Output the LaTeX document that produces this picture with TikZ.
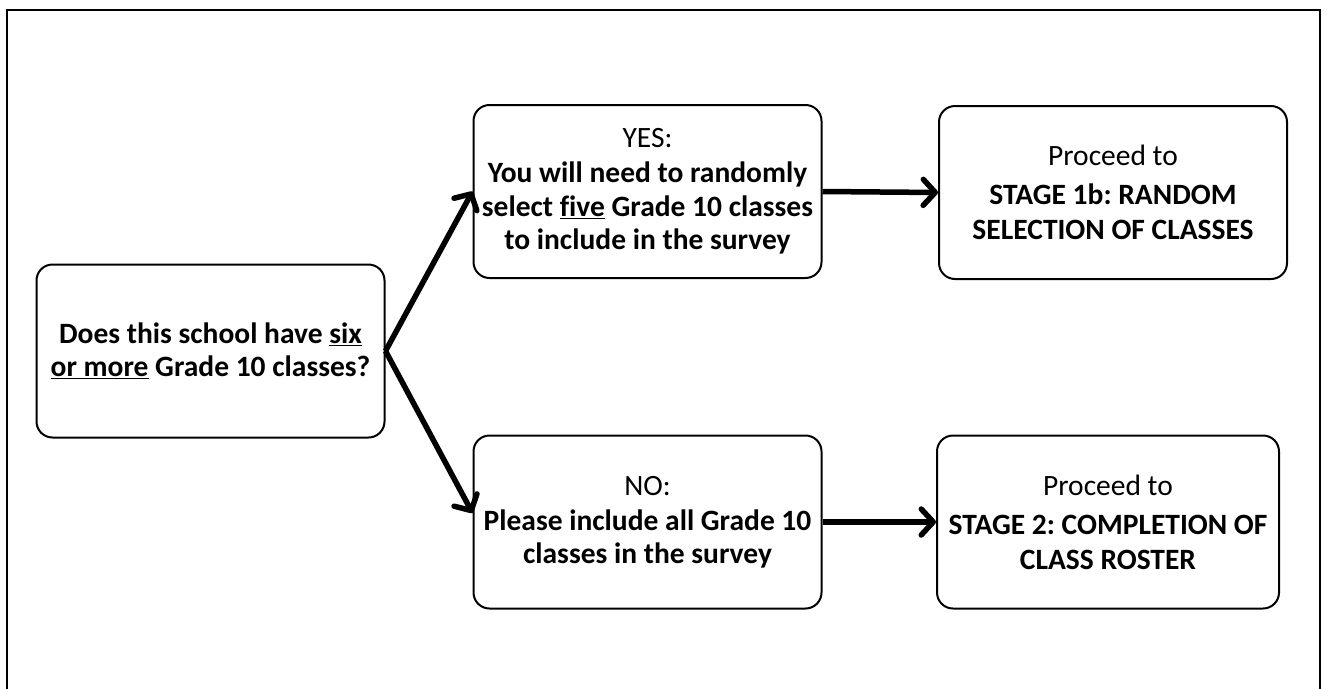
\documentclass[tikz,border=0pt]{standalone}
\usepackage{fontspec}
\setmainfont{Carlito}[Ligatures=NoCommon]
\usetikzlibrary{arrows.meta}
\frenchspacing
\tikzset{
  stepbox/.style={draw, line width=2pt, rounded corners=16pt, align=center, inner sep=0pt,
    minimum width=348pt, minimum height=173pt, font=\fontsize{29.5}{33.5}\selectfont},
  stagebox/.style={stepbox, font=\fontsize{29.5}{35}\selectfont},
  flow/.style={line width=5.5pt, -{Straight Barb[length=12pt,width=26pt,round]}}
}

\begin{document}
\begin{tikzpicture}[x=1pt,y=-1pt]
            \useasboundingbox (0,0) rectangle (1332,688);
            \draw[line width=2pt] (7,690)--(7,10)--(1320,10)--(1320,690);
            \node[stepbox] (q) at (210.5,351) {\textbf{Does this school have \underline{six}}\\\textbf{\underline{or more} Grade 10 classes?}};
            \node[stepbox] (yes) at (647.5,191.5) {YES:\\[1.5pt]\textbf{You will need to randomly}\\\textbf{select \underline{five} Grade 10 classes}\\\textbf{to include in the survey}};
            \node[stepbox] (no) at (647.5,522) {NO:\\[1.5pt]\textbf{Please include all Grade 10}\\\textbf{classes in the survey}};
            \node[stagebox] (sa) at (1113,192.5) {Proceed to\\[4pt]\textbf{STAGE 1b: RANDOM}\\\textbf{SELECTION OF CLASSES}};
            \node[stagebox, minimum width=342pt] (sb) at (1108,522) {Proceed to\\[4pt]\textbf{STAGE 2: COMPLETION OF}\\\textbf{CLASS ROSTER}};
            \draw[flow] (q.east)--(yes.west);
            \draw[flow] (q.east)--([yshift=9pt]no.west);
            \draw[flow] (yes.east)--(sa.west);
            \draw[flow] (no.east)--(sb.west);
        \end{tikzpicture}
\end{document}
